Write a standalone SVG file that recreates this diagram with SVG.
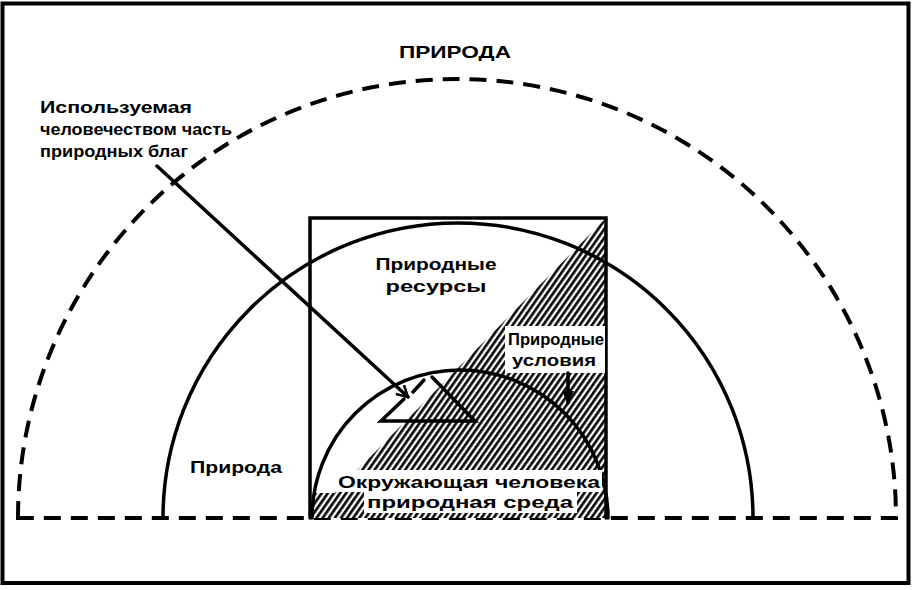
<svg xmlns="http://www.w3.org/2000/svg" width="914" height="590" viewBox="0 0 914 590">
  <style>
    .ln { fill: none; stroke: #000; stroke-width: 3.5; stroke-linecap: round; }
    .dash { fill: none; stroke: #000; stroke-width: 4; stroke-dasharray: 17 10; }
    .t { font-family: "Liberation Sans", "DejaVu Sans", sans-serif; font-weight: bold; fill: #000; }
    .bg { fill: #fff; }
  </style>
  <defs>
    <pattern id="hatch" width="5" height="10" patternUnits="userSpaceOnUse" patternTransform="rotate(35)">
      <rect width="5" height="10" fill="#fff"/>
      <line x1="1.4" y1="0" x2="1.4" y2="10" stroke="#000" stroke-width="2.6"/>
    </pattern>
    <marker id="ah" markerWidth="14" markerHeight="14" refX="12" refY="7" orient="auto" markerUnits="userSpaceOnUse">
      <path d="M1,1 L12,7 L1,13" fill="none" stroke="#000" stroke-width="2.5"/>
    </marker>
    <marker id="ahf" markerWidth="14" markerHeight="14" refX="12" refY="7" orient="auto" markerUnits="userSpaceOnUse">
      <path d="M0,1 L13,7 L0,13 Z" fill="#000"/>
    </marker>
  </defs>

  <rect x="0" y="0" width="914" height="590" fill="#fff"/>
  <rect id="frame" x="2.5" y="3.5" width="906" height="579.5" fill="none" stroke="#000" stroke-width="4"/>

  <g id="priroda-outer">
    <path class="dash" d="M18,518 A439,439 0 0 1 896,518 Z"/>
    <text class="t" x="455" y="58" font-size="17" text-anchor="middle" textLength="112" lengthAdjust="spacingAndGlyphs">ПРИРОДА</text>
  </g>

  <g id="hatched-conditions">
    <polygon points="310,518 606,218 606,518" fill="url(#hatch)"/>
    <polygon points="313,493 364,493 364,518 311,518" fill="url(#hatch)"/>
  </g>

  <g id="priroda-inner">
    <path class="ln" d="M163,518 A295,295 0 0 1 753,518"/>
    <text class="t" x="190" y="473" font-size="16" textLength="92" lengthAdjust="spacingAndGlyphs">Природа</text>
  </g>

  <g id="resources">
    <polyline class="ln" points="310,518 310,218 606,218 606,518" stroke-width="4"/>
    <text class="t" x="436" y="270" font-size="16" text-anchor="middle" textLength="121" lengthAdjust="spacingAndGlyphs">Природные</text>
    <text class="t" x="436" y="292" font-size="16" text-anchor="middle" textLength="101" lengthAdjust="spacingAndGlyphs">ресурсы</text>
  </g>

  <g id="environment">
    <path class="ln" d="M312,518 A148,148 0 0 1 608,518"/>
    <rect class="bg" x="334" y="470" width="268" height="22"/>
    <rect class="bg" x="364" y="492" width="213" height="21"/>
    <text class="t" x="469" y="488" font-size="16" text-anchor="middle" textLength="262" lengthAdjust="spacingAndGlyphs">Окружающая человека</text>
    <text class="t" x="470" y="508" font-size="16" text-anchor="middle" textLength="206" lengthAdjust="spacingAndGlyphs">природная среда</text>
  </g>

  <g id="conditions-label">
    <rect class="bg" x="505" y="326" width="100" height="47"/>
    <text class="t" x="556" y="345" font-size="16" text-anchor="middle" textLength="96" lengthAdjust="spacingAndGlyphs">Природные</text>
    <text class="t" x="554" y="366" font-size="16" text-anchor="middle" textLength="84" lengthAdjust="spacingAndGlyphs">условия</text>
  </g>

  <g id="used-part">
    <path class="ln" d="M432,377 L475,421 L381,421 L404,399"/>
    <line class="ln" x1="413" y1="392" x2="424" y2="380"/>
    <text class="t" font-size="16">
      <tspan x="40" y="113" textLength="152" lengthAdjust="spacingAndGlyphs">Используемая</tspan>
      <tspan x="40" y="135" textLength="192" lengthAdjust="spacingAndGlyphs">человечеством часть</tspan>
      <tspan x="40" y="157" textLength="148" lengthAdjust="spacingAndGlyphs">природных благ</tspan>
    </text>
  </g>

  <g id="connectors">
    <line class="ln" x1="157" y1="166" x2="408" y2="397" marker-end="url(#ah)" stroke-width="3"/>
    <line class="ln" x1="568" y1="373" x2="568" y2="403" marker-end="url(#ahf)" stroke-width="3"/>
  </g>
</svg>
